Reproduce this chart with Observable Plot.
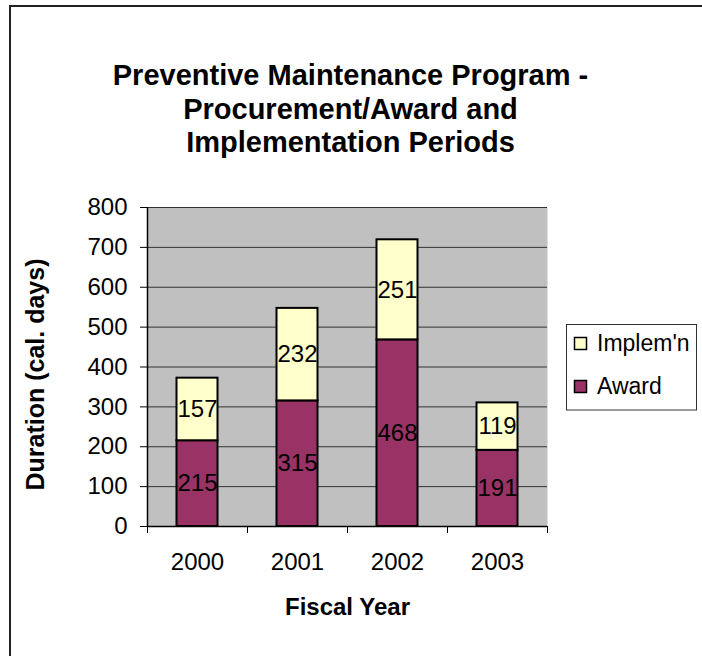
<!DOCTYPE html>
<html><head><meta charset="utf-8">
<script src="https://cdn.jsdelivr.net/npm/d3@7"></script>
<script src="https://cdn.jsdelivr.net/npm/@observablehq/plot@0.6"></script>
<style>
html,body{margin:0;padding:0;background:#fff;}
#wrap{position:relative;width:702px;height:656px;overflow:hidden;}
#wrap svg{position:absolute;left:0;top:0;}
#frame{position:absolute;left:9px;top:5px;width:720px;height:700px;border-left:2px solid #222;border-top:2px solid #222;}
</style></head><body><div id="wrap"><div id="frame"></div></div>
<script>
const years = ["2000","2001","2002","2003"];
const award = [215,315,468,191];
const implem = [157,232,251,119];
const yTicks = [0,100,200,300,400,500,600,700,800];
const seriesNames = ["Implem'n","Award"];
const seriesColors = ["#FFFFCC","#993366"];
const titleLines = ["Preventive Maintenance Program -","Procurement/Award and","Implementation Periods"];
const xLabel = "Fiscal Year";
const yLabel = "Duration (cal. days)";

const rows = years.flatMap((year,i)=>[
  {year, i, series:"Award", value:award[i], y1:0, y2:award[i]},
  {year, i, series:"Implem'n", value:implem[i], y1:award[i], y2:award[i]+implem[i]}
]);
const FONT = "'Liberation Sans', Arial, sans-serif";
const chart = Plot.plot({
  width:702, height:656, marginTop:207, marginBottom:130, marginLeft:147, marginRight:155,
  style:{fontFamily:FONT, fontSize:"24px", background:"transparent", color:"#000"},
  x:{domain:[0,4], axis:null},
  y:{domain:[0,800], axis:null},
  color:{domain:seriesNames, range:seriesColors},
  marks:[
    Plot.frame({fill:"#C0C0C0", stroke:"none"}),
    Plot.ruleY(yTicks.filter(v=>v>0), {stroke:"#333", strokeWidth:1}),
    Plot.rectY(rows, {x1:d=>d.i+0.295, x2:d=>d.i+0.705, y1:"y1", y2:"y2", fill:"series", stroke:"#000", strokeWidth:2}),
    Plot.text(rows, {x:d=>d.i+0.5, y:d=>(d.y1+d.y2)/2, text:d=>String(d.value), fontSize:24, fill:"#000"}),
    Plot.axisY({ticks:yTicks, tickSize:7, tickPadding:13, fontSize:24, label:null, tickFormat:d=>String(d), stroke:"#000"}),
    Plot.axisX({ticks:[0,1,2,3,4], tickSize:7, tickFormat:()=>"", label:null, stroke:"#000"}),
    Plot.axisX({ticks:years.map((_,i)=>i+0.5), tickSize:0, tickPadding:26, fontSize:24, tickFormat:d=>years[Math.floor(d)], label:null}),
    Plot.ruleX([0], {y1:0, y2:800, stroke:"#000", strokeWidth:1.5}),
    Plot.ruleY([0], {stroke:"#000", strokeWidth:1.5}),
    Plot.text([xLabel], {text:d=>d, frameAnchor:"bottom", lineAnchor:"middle", dy:81, fontWeight:"bold", fontSize:24}),
    Plot.text([yLabel], {text:d=>d, frameAnchor:"left", textAnchor:"middle", lineAnchor:"middle", rotate:-90, dx:-112, dy:7.5, fontWeight:"bold", fontSize:25}),
    Plot.text([titleLines.join("\n")], {text:d=>d, frameAnchor:"top", lineAnchor:"top", dx:3, dy:-146, fontWeight:"bold", fontSize:29, lineHeight:1.155})
  ]
});
document.getElementById("wrap").appendChild(chart);

const leg = d3.select("#wrap").append("svg")
  .attr("width",132).attr("height",87)
  .style("position","absolute").style("left","566px").style("top","324px");
leg.append("rect").attr("x",0.5).attr("y",0.5).attr("width",130).attr("height",85.5)
  .attr("fill","#fff").attr("stroke","#333").attr("stroke-width",1);
seriesNames.forEach((name,k)=>{
  const g = leg.append("g").attr("transform",`translate(0,${k*43})`);
  g.append("rect").attr("x",8.5).attr("y",13.5).attr("width",12).attr("height",12)
    .attr("fill",seriesColors[k]).attr("stroke","#000").attr("stroke-width",1.5);
  g.append("text").attr("x",31).attr("y",27).text(name)
    .style("font-family",FONT).style("font-size","23px").attr("fill","#000");
});
</script></body></html>
